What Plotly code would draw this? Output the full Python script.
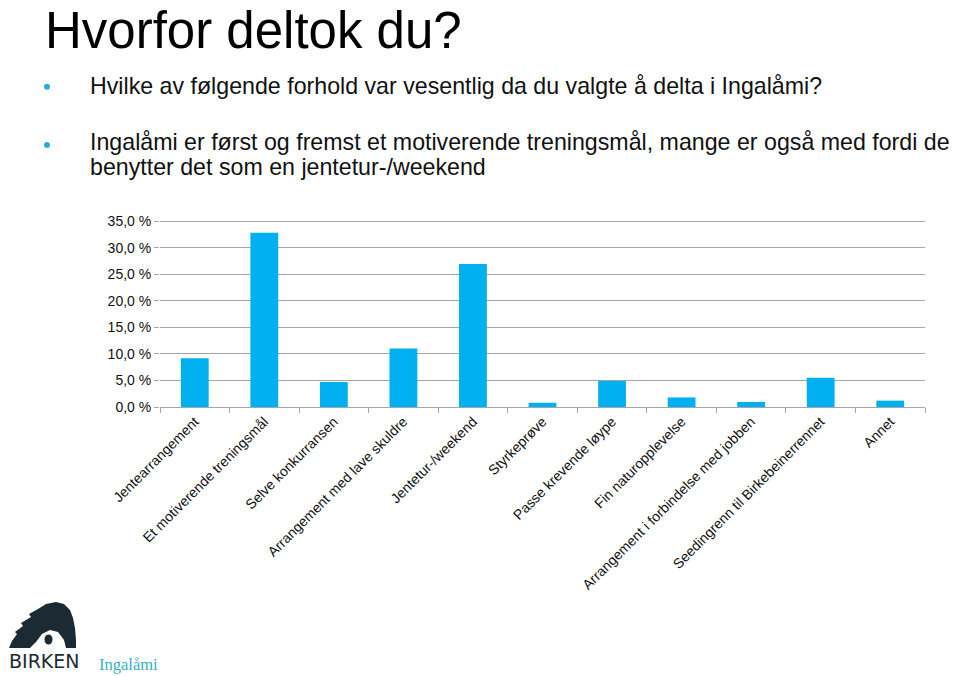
import plotly.graph_objects as go

categories = [
    "Jentearrangement",
    "Et motiverende treningsmål",
    "Selve konkurransen",
    "Arrangement med lave skuldre",
    "Jentetur-/weekend",
    "Styrkeprøve",
    "Passe krevende løype",
    "Fin naturopplevelse",
    "Arrangement i forbindelse med jobben",
    "Seedingrenn til Birkebeinerrennet",
    "Annet",
]
values = [9.2, 32.8, 4.7, 11.0, 26.9, 0.8, 4.9, 1.8, 0.95, 5.5, 1.2]
y_tickvals = [0, 5, 10, 15, 20, 25, 30, 35]
y_ticktext = ["0,0 %", "5,0 %", "10,0 %", "15,0 %", "20,0 %", "25,0 %", "30,0 %", "35,0 %"]

title_text = "Hvorfor deltok du?"
bullet_lines = [
    "Hvilke av følgende forhold var vesentlig da du valgte å delta i Ingalåmi?",
    "Ingalåmi er først og fremst et motiverende treningsmål, mange er også med fordi de",
    "benytter det som en jentetur-/weekend",
]

# page has an 8px body margin; the figure fills the rest of the 960x676 window
OFF = 8
W, H = 960 - OFF, 676 - OFF
FONT = "Liberation Sans, Arial, sans-serif"

fig = go.Figure()
fig.add_trace(go.Bar(
    x=categories, y=values,
    marker=dict(color="#00b0f0", line=dict(width=0)),
    hoverinfo="x+y",
))

def px_x(p):
    return (p - OFF) / W

def px_y(p):
    return 1 - (p - OFF) / H

fig.update_layout(
    width=W, height=H,
    margin=dict(l=0, r=0, t=0, b=0, autoexpand=False),
    paper_bgcolor="white", plot_bgcolor="white",
    showlegend=False,
    bargap=0.6,
    font=dict(family=FONT, color="#222222"),
    xaxis=dict(
        domain=[px_x(160), px_x(925)],
        automargin=False,
        showgrid=False,
        showline=True, linecolor="#a6a6a6", linewidth=1,
        ticks="outside", tickson="boundaries", ticklen=5, tickcolor="#a6a6a6",
        tickangle=-45,
        tickfont=dict(size=14, color="#111111", family=FONT),
        fixedrange=True,
    ),
    yaxis=dict(
        domain=[px_y(407), px_y(220)],
        automargin=False,
        range=[0, 35.2],
        tickvals=y_tickvals, ticktext=y_ticktext,
        showgrid=True, gridcolor="#a6a6a6", gridwidth=1,
        showline=False, zeroline=False,
        ticks="outside", ticklen=5, tickcolor="#a6a6a6",
        tickfont=dict(size=14, color="#111111", family=FONT),
        fixedrange=True,
    ),
)

def ann(text, x, y, size, color="#111111", family=FONT, xanchor="left", yanchor="middle"):
    return dict(text=text, x=px_x(x), y=px_y(y), xref="paper", yref="paper",
                xanchor=xanchor, yanchor=yanchor, showarrow=False, align="left",
                font=dict(size=size, color=color, family=family))

annotations = [
    ann(title_text, 43, 31, 51, color="#000000"),
    ann(bullet_lines[0], 88, 86.5, 23.2),
    ann(bullet_lines[1], 88, 142, 23.2),
    ann(bullet_lines[2], 88, 167, 23.2),
    ann("BIRKEN", 44, 661, 19, color="#1c2b33", family="DejaVu Sans, sans-serif",
        xanchor="center"),
    ann("Ingalåmi", 97, 664, 16.5, color="#3ab0bf", family="Liberation Serif, serif"),
]

shapes = []
for cy in (86.7, 145):
    shapes.append(dict(type="circle", xref="paper", yref="paper",
                       x0=px_x(44), x1=px_x(50), y0=px_y(cy + 3), y1=px_y(cy - 3),
                       fillcolor="#29abe2", line=dict(width=0)))

def conv(path):
    out = []
    for tok in path.split():
        if "," in tok:
            a, b = tok.split(",")
            out.append(f"{px_x(float(a)):.5f},{px_y(float(b)):.5f}")
        else:
            out.append(tok)
    return " ".join(out)

# rough silhouette of the logo figure
logo_path = ("M 9,648 L 12,641 L 17,634 L 15,632 L 23,626 L 21,623 L 31,617 "
             "L 29,614 L 38,609 L 46,604 L 56,602 L 64,604 L 70,610 L 73,618 "
             "L 75,628 L 76,640 L 76,648 L 66,648 L 64,640 L 58,632 L 50,630 "
             "L 42,634 L 36,642 L 30,648 Z")
shapes.append(dict(type="path", xref="paper", yref="paper", path=conv(logo_path),
                   fillcolor="#1c2b33", line=dict(width=0)))
shapes.append(dict(type="circle", xref="paper", yref="paper",
                   x0=px_x(44), x1=px_x(53), y0=px_y(645), y1=px_y(634),
                   fillcolor="#1c2b33", line=dict(color="white", width=1)))

fig.update_layout(annotations=annotations, shapes=shapes)
fig.write_html("out.html")
